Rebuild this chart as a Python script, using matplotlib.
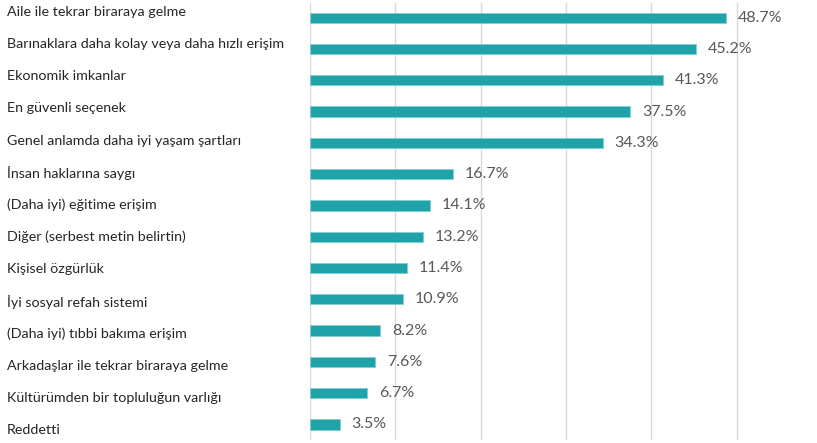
import matplotlib
matplotlib.use("Agg")
import matplotlib.pyplot as plt
from matplotlib.transforms import blended_transform_factory, offset_copy

categories = [
    "Aile ile tekrar biraraya gelme",
    "Barınaklara daha kolay veya daha hızlı erişim",
    "Ekonomik imkanlar",
    "En güvenli seçenek",
    "Genel anlamda daha iyi yaşam şartları",
    "İnsan haklarına saygı",
    "(Daha iyi) eğitime erişim",
    "Diğer (serbest metin belirtin)",
    "Kişisel özgürlük",
    "İyi sosyal refah sistemi",
    "(Daha iyi) tıbbi bakıma erişim",
    "Arkadaşlar ile tekrar biraraya gelme",
    "Kültürümden bir topluluğun varlığı",
    "Reddetti",
]
values = [48.7, 45.2, 41.3, 37.5, 34.3, 16.7, 14.1, 13.2, 11.4, 10.9, 8.2, 7.6, 6.7, 3.5]
xticks = [0, 10, 20, 30, 40, 50]

plt.rcParams['font.family'] = ['Lato', 'DejaVu Sans']

W, H = 817, 443
fig = plt.figure(figsize=(W / 100, H / 100), dpi=100)
ax = fig.add_axes([310 / W, 3 / H, 1 - 310 / W, (440 - 3) / H])

ypos = list(range(len(categories)))
ax.barh(ypos, values, height=0.33, color="#1FA3A8", edgecolor="#7fcfd2", linewidth=0.6, zorder=3)

ax.set_xlim(0, 59.4)
ax.set_ylim(13.5, -0.47)
ax.set_xticks(xticks)
ax.xaxis.grid(True, color="#d9d9d9", linewidth=1.0, zorder=0)
ax.set_yticks([])
ax.tick_params(axis='x', length=0, labelbottom=False)
for s in ax.spines.values():
    s.set_visible(False)

for y, v in zip(ypos, values):
    ax.annotate(f"{v:.1f}%", (v, y), xytext=(8.5, 0), textcoords="offset points",
                va="center", ha="left", fontsize=11.5, color="#595959")

trans = blended_transform_factory(fig.transFigure, ax.transData)
n = len(categories)
for i, (y, c) in enumerate(zip(ypos, categories)):
    off = -6 + 12 * i / (n - 1)
    t = offset_copy(trans, fig=fig, x=0, y=-off * 0.72, units='points')
    fig.text(7 / W, y, c, transform=t, ha="left", va="center", fontsize=10.3, color="#262626")

fig.savefig("out.png", dpi=100)
